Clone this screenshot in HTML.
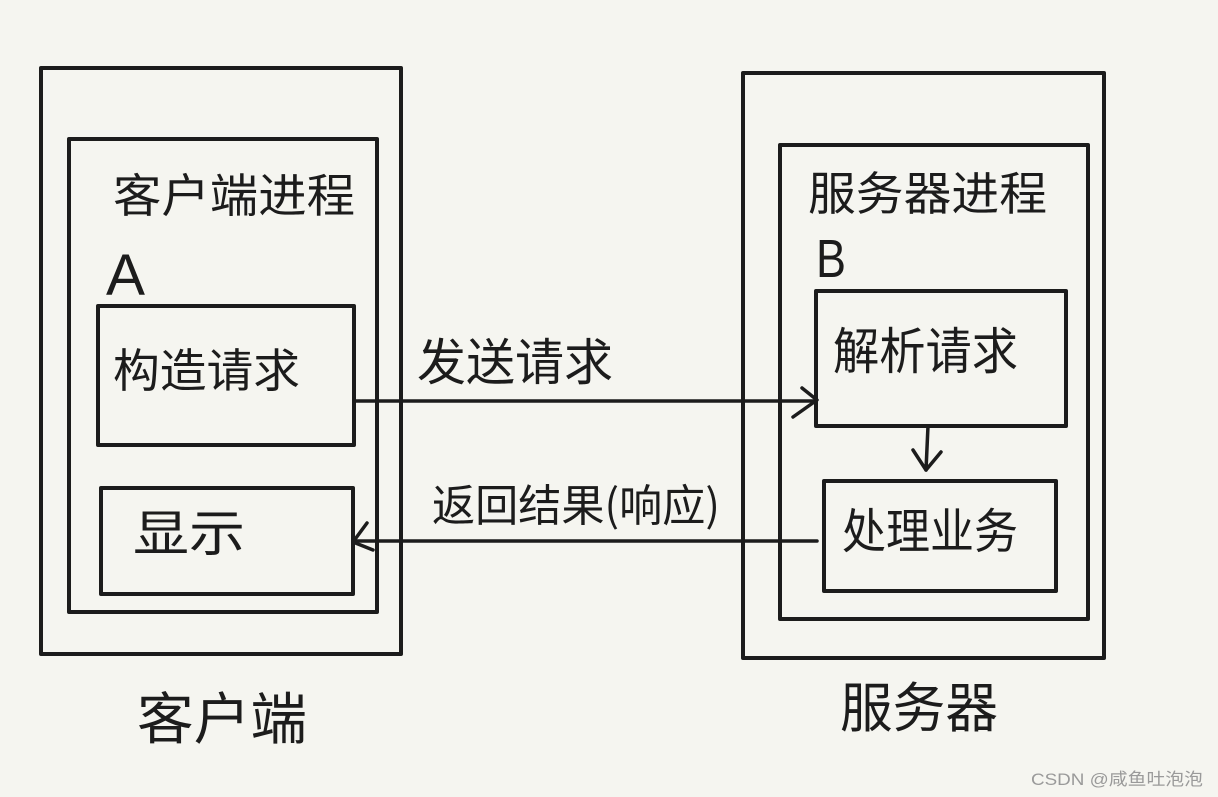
<!DOCTYPE html>
<html><head><meta charset="utf-8"><style>
html,body{margin:0;padding:0;background:#f5f5f0;}
svg{display:block;}
text{font-family:"Liberation Sans","Noto Sans CJK SC",sans-serif;fill:#1c1c1c;}
.cj{font-family:"Noto Sans CJK SC","WenQuanYi Zen Hei",sans-serif;font-weight:400;}
</style></head><body>
<svg width="1218" height="797" viewBox="0 0 1218 797" xmlns="http://www.w3.org/2000/svg">
<rect x="0" y="0" width="1218" height="797" fill="#f5f5f0"/>
<g fill="none" stroke="#1c1c1c" stroke-width="4" stroke-linejoin="round" stroke-linecap="round">
  <!-- left client -->
  <rect x="41" y="68" width="360" height="586"/>
  <rect x="69" y="139" width="308" height="473"/>
  <rect x="98" y="306" width="256" height="139"/>
  <rect x="101" y="488" width="252" height="106"/>
  <!-- right server -->
  <rect x="743" y="73" width="361" height="585"/>
  <rect x="780" y="145" width="308" height="474"/>
  <rect x="816" y="291" width="250" height="135"/>
  <rect x="824" y="481" width="232" height="110"/>
</g>
<g fill="none" stroke="#1c1c1c" stroke-width="3.5" stroke-linecap="round" stroke-linejoin="round">
  <!-- send request arrow -->
  <line x1="356" y1="401" x2="815" y2="401"/>
  <polyline points="802,388 817,400 793,417"/>
  <!-- return arrow -->
  <line x1="817" y1="541" x2="353" y2="541"/>
  <polyline points="367,523 353,542 373,550"/>
  <!-- down arrow -->
  <line x1="928" y1="426" x2="926" y2="470"/>
  <polyline points="913,450 926,470 941,452"/>
</g>
<text class="cj" x="113" y="212" font-size="46" textLength="242" lengthAdjust="spacingAndGlyphs">客户端进程</text>
<text x="106" y="295" font-size="58" textLength="39" lengthAdjust="spacingAndGlyphs">A</text>
<text class="cj" x="113" y="387" font-size="46" textLength="187" lengthAdjust="spacingAndGlyphs">构造请求</text>
<text class="cj" x="133" y="551" font-size="50" textLength="112" lengthAdjust="spacingAndGlyphs">显示</text>
<text class="cj" x="417" y="380" font-size="50" textLength="196" lengthAdjust="spacingAndGlyphs">发送请求</text>
<text class="cj" x="432" y="521" font-size="44" textLength="288" lengthAdjust="spacingAndGlyphs">返回结果(响应)</text>
<text class="cj" x="808" y="210" font-size="46" textLength="239" lengthAdjust="spacingAndGlyphs">服务器进程</text>
<text x="816" y="277" font-size="54" textLength="30" lengthAdjust="spacingAndGlyphs">B</text>
<text class="cj" x="833" y="369" font-size="50" textLength="185" lengthAdjust="spacingAndGlyphs">解析请求</text>
<text class="cj" x="842" y="548" font-size="48" textLength="176" lengthAdjust="spacingAndGlyphs">处理业务</text>
<text class="cj" x="137" y="739" font-size="56" textLength="170" lengthAdjust="spacingAndGlyphs">客户端</text>
<text class="cj" x="840" y="727" font-size="54" textLength="158" lengthAdjust="spacingAndGlyphs">服务器</text>
<text x="1031" y="785" font-size="17" fill="#9a9a9a" style="fill:#9a9a9a" textLength="172" lengthAdjust="spacingAndGlyphs">CSDN @咸鱼吐泡泡</text>
</svg>
</body></html>
